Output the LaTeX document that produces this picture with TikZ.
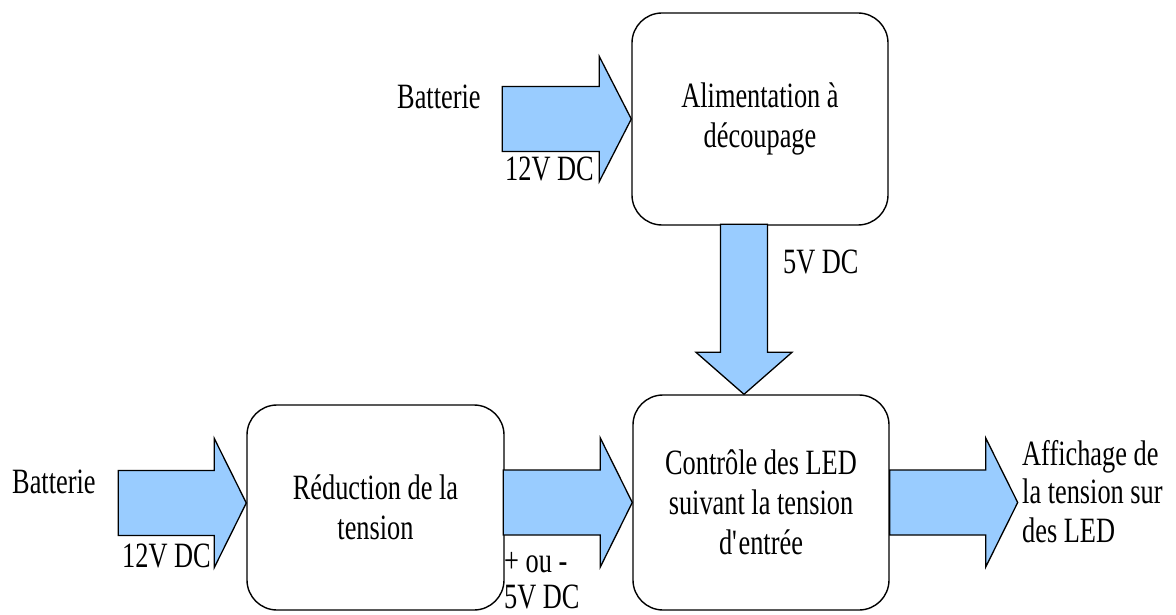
\documentclass[tikz,border=0pt]{standalone}
\usepackage{fontspec}
\setmainfont{Liberation Serif}[FakeStretch=0.74]
\definecolor{arrowblue}{HTML}{99CCFF}
\begin{document}
\begin{tikzpicture}[x=1pt,y=-1pt,
  lbl/.style={inner sep=0pt, font=\fontsize{35.6}{40}\selectfont},
  blk/.style={draw, line width=1.4pt, rounded corners=30pt, align=center, inner sep=0pt, fill=white, font=\fontsize{35.6}{40}\selectfont},
  fat/.style={draw, line width=1.3pt, fill=arrowblue, line join=miter}]
\useasboundingbox (0,0) rectangle (1176,615);
% boxes
\node[blk, minimum width=256pt, minimum height=212pt] (alim) at (760,119) {Alimentation à\\découpage};
\node[blk, minimum width=257pt, minimum height=205pt] (red) at (375.5,507.5) {Réduction de la\\tension};
\node[blk, minimum width=256pt, minimum height=215pt] (ctrl) at (761,502.5) {Contrôle des LED\\suivant la tension\\d\textquotesingle entrée};
% fat arrows
\draw[fat] (alim.west) -- ++(-32,-62.5) -- ++(0,30) -- ++(-97,0) -- ++(0,65) -- ++(97,0) -- ++(0,30) -- cycle;
\draw[fat] ([yshift=4.5pt]red.west) -- ++(-32,-64.5) -- ++(0,32) -- ++(-96,0) -- ++(0,65) -- ++(96,0) -- ++(0,32) -- cycle;
\draw[fat] (ctrl.west) -- ++(-32,-64.5) -- ++(0,32) -- ++(-97,0) -- ++(0,65) -- ++(97,0) -- ++(0,32) -- cycle;
\draw[fat] (ctrl.east) -- ++(0,-32.5) -- ++(96,0) -- ++(0,-32) -- ++(32,64.5) -- ++(-32,64.5) -- ++(0,-32) -- ++(-96,0) -- cycle;
\draw[fat] ([xshift=-17pt]ctrl.north) -- ++(-48,-42) -- ++(24.5,0) -- ++(0,-128) -- ++(47,0) -- ++(0,128) -- ++(24.5,0) -- cycle;
% labels
\node[lbl, anchor=base west] (bat1) at (397,109) {Batterie};
\node[lbl, anchor=base west] (v1) at (505,181) {12V DC};
\node[lbl, anchor=base west] (v5) at (783,273) {5V DC};
\node[lbl, anchor=base west] (bat2) at (12,493) {Batterie};
\node[lbl, anchor=base west] (v2) at (122,567) {12V DC};
\node[lbl, anchor=base west] (pm) at (504,572) {+ ou -};
\node[lbl, anchor=base west] (v3) at (504,608) {5V DC};
\node[lbl, anchor=base west] (aff1) at (1022,465) {Affichage de};
\node[lbl, anchor=base west] (aff2) at (1022,503) {la tension sur};
\node[lbl, anchor=base west] (aff3) at (1022,542) {des LED};
\end{tikzpicture}
\end{document}
